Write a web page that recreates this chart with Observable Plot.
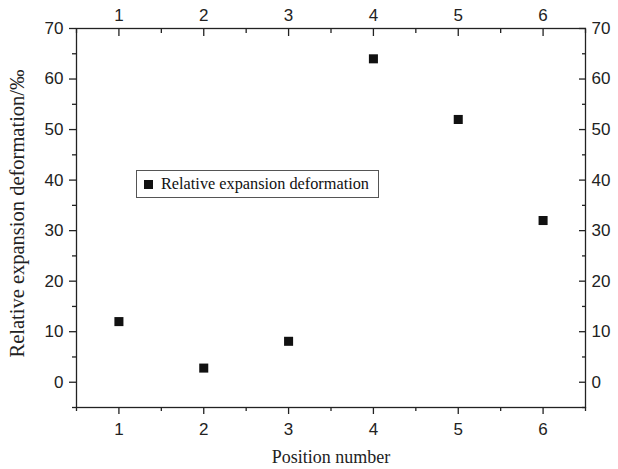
<!DOCTYPE html>
<html><head><meta charset="utf-8">
<script src="https://cdn.jsdelivr.net/npm/d3@7"></script>
<script src="https://cdn.jsdelivr.net/npm/@observablehq/plot@0.6"></script>
<style>
body{margin:0;background:#fff;}
#wrap{position:relative;width:618px;height:469px;}
#legend{position:absolute;left:136px;top:170px;width:243px;height:28px;border:1px solid #555;box-sizing:border-box;background:#fff;
 font-family:"Liberation Serif","Times New Roman",serif;font-size:16.3px;color:#111;display:flex;align-items:center;white-space:nowrap;}
#legend .sw{display:inline-block;width:9px;height:9px;background:#111;margin-left:7px;margin-right:8px;}
</style></head>
<body><div id="wrap"><div id="chart"></div>
<div id="legend"><span class="sw"></span><span id="legtext"></span></div></div>
<script>
const positions = [1, 2, 3, 4, 5, 6];
const deformation = [12, 2.8, 8.1, 64, 52, 32];
const seriesName = "Relative expansion deformation";
const xTicks = [1, 2, 3, 4, 5, 6];
const xMinor = [0.5, 1.5, 2.5, 3.5, 4.5, 5.5, 6.5];
const yTicks = [0, 10, 20, 30, 40, 50, 60, 70];
const yMinor = [-5, 5, 15, 25, 35, 45, 55, 65];
const xTitle = "Position number";
const yTitle = "Relative expansion deformation/‰";

const data = positions.map((p, i) => ({x: p, y: deformation[i]}));
const ink = "#222";
const sans = "'Liberation Sans', Arial, Helvetica, sans-serif";
const serif = "'Liberation Serif', 'Times New Roman', serif";
const blank = () => "";

const tickOpts = {stroke: ink, strokeWidth: 1.3, label: null, tickFormat: blank};
const textOpts = {tickSize: 0, fontSize: 17, fill: ink, label: null};

const chart = Plot.plot({
  width: 618, height: 469,
  marginLeft: 76, marginRight: 33, marginTop: 28, marginBottom: 62,
  x: {domain: [0.5, 6.5]},
  y: {domain: [-5, 70]},
  style: {fontFamily: sans, fontSize: "17px", color: ink, background: "#fff"},
  marks: [
    // left axis (outward ticks)
    Plot.axisY(yTicks, {...tickOpts, anchor: "left", tickSize: 7}),
    Plot.axisY(yMinor, {...tickOpts, anchor: "left", tickSize: 4}),
    Plot.axisY(yTicks, {...textOpts, anchor: "left", tickPadding: 13}),
    // right axis (inward ticks)
    Plot.axisY(yTicks, {...tickOpts, anchor: "right", tickSize: -7}),
    Plot.axisY(yMinor, {...tickOpts, anchor: "right", tickSize: -4}),
    Plot.axisY(yTicks, {...textOpts, anchor: "right", tickPadding: 6}),
    // bottom axis (outward ticks)
    Plot.axisX(xTicks, {...tickOpts, anchor: "bottom", tickSize: 7}),
    Plot.axisX(xMinor, {...tickOpts, anchor: "bottom", tickSize: 4}),
    Plot.axisX(xTicks, {...textOpts, anchor: "bottom", tickPadding: 15}),
    // top axis (inward ticks)
    Plot.axisX(xTicks, {...tickOpts, anchor: "top", tickSize: -7}),
    Plot.axisX(xMinor, {...tickOpts, anchor: "top", tickSize: -4}),
    Plot.axisX(xTicks, {...textOpts, anchor: "top", tickPadding: 8}),
    Plot.frame({stroke: ink, strokeWidth: 1.3}),
    Plot.dot(data, {x: "x", y: "y", symbol: "square", r: 5.1, fill: "#111", stroke: "none"}),
    Plot.text([yTitle], {frameAnchor: "left", dx: -59, dy: -4.5, rotate: -90, textAnchor: "middle", lineAnchor: "middle", fontFamily: serif, fontSize: 20.5, fill: ink}),
    Plot.text([xTitle], {frameAnchor: "bottom", dy: 50, textAnchor: "middle", lineAnchor: "middle", fontFamily: serif, fontSize: 18, fill: ink})
  ]
});
document.getElementById("chart").appendChild(chart);
document.getElementById("legtext").textContent = seriesName;
</script>
</body></html>
